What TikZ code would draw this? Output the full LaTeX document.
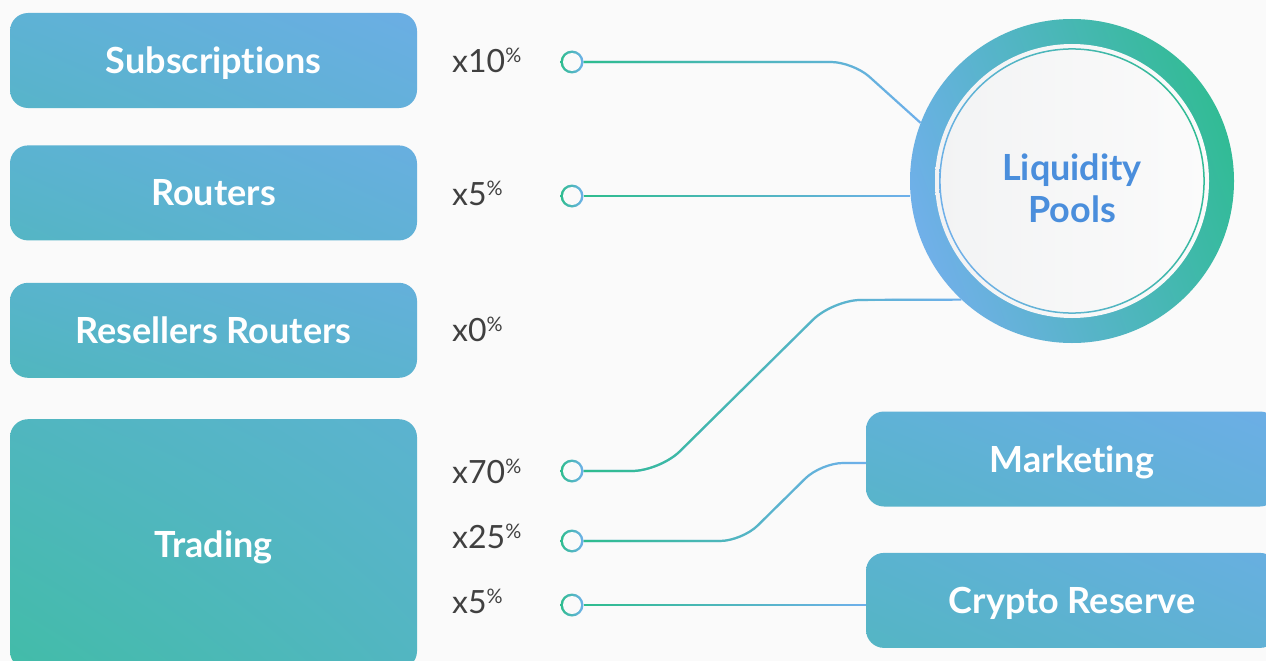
\documentclass[tikz,border=0pt]{standalone}
\usepackage{fontspec}
\setmainfont{Lato}[Ligatures=NoCommon]
\usepackage{xcolor}
\definecolor{bgGray}{HTML}{FAFAFA}
\definecolor{labelGray}{HTML}{404040}
\definecolor{linkGreen}{HTML}{2EBD8E}
\definecolor{linkBlue}{HTML}{6FB0EC}
\definecolor{ringGreen}{HTML}{2ABD88}
\definecolor{ringUL}{HTML}{62B2DC}
\definecolor{ringLR}{HTML}{3CB9A8}
\definecolor{ringBlue}{HTML}{7AAEF3}
\definecolor{innerLeft}{HTML}{F2F3F4}
\definecolor{innerRight}{HTML}{FBFBFB}
\definecolor{poolBlue}{HTML}{4A8EDC}
% box corner colours (upper left, upper right, lower left, lower right)
\definecolor{subsUL}{HTML}{5EB2D5}\definecolor{subsUR}{HTML}{6BAEE4}
\definecolor{subsLL}{HTML}{57B4C9}\definecolor{subsLR}{HTML}{64B0DB}
\definecolor{routUL}{HTML}{5BB3D1}\definecolor{routUR}{HTML}{68AFE0}
\definecolor{routLL}{HTML}{54B5C4}\definecolor{routLR}{HTML}{61B1D6}
\definecolor{reseUL}{HTML}{58B4CC}\definecolor{reseUR}{HTML}{64B0DB}
\definecolor{reseLL}{HTML}{50B6BE}\definecolor{reseLR}{HTML}{5CB3D0}
\definecolor{tradUL}{HTML}{50B6BF}\definecolor{tradUR}{HTML}{5CB3D0}
\definecolor{tradLL}{HTML}{42BCA8}\definecolor{tradLR}{HTML}{52B6C1}
\definecolor{mktUL}{HTML}{5FB2D6}\definecolor{mktUR}{HTML}{6CAEE6}
\definecolor{mktLL}{HTML}{58B4CA}\definecolor{mktLR}{HTML}{65B0DC}
\definecolor{cryUL}{HTML}{5AB3CF}\definecolor{cryUR}{HTML}{68AFE1}
\definecolor{cryLL}{HTML}{54B5C4}\definecolor{cryLR}{HTML}{61B1D6}
\usetikzlibrary{positioning, fadings, shadings}
\newcommand{\pct}{\raisebox{10pt}{\fontsize{20}{20}\selectfont\%}}

\begin{document}
\begin{tikzpicture}[
    x=1pt, y=-1pt,
    box/.style={rectangle, rounded corners=18pt, minimum width=407pt, minimum height=95pt,
                inner sep=0pt, text=white, font=\fontsize{36}{42}\selectfont\bfseries,
                text height=26pt, text depth=0pt},
    subsbox/.style={box, upper left=subsUL, upper right=subsUR, lower left=subsLL, lower right=subsLR},
    routbox/.style={box, upper left=routUL, upper right=routUR, lower left=routLL, lower right=routLR},
    resebox/.style={box, upper left=reseUL, upper right=reseUR, lower left=reseLL, lower right=reseLR},
    tradbox/.style={box, upper left=tradUL, upper right=tradUR, lower left=tradLL, lower right=tradLR},
    mktbox/.style={box, minimum width=412pt, upper left=mktUL, upper right=mktUR, lower left=mktLL, lower right=mktLR},
    crybox/.style={box, minimum width=412pt, upper left=cryUL, upper right=cryUR, lower left=cryLL, lower right=cryLR},
    dot/.style={circle, minimum size=23pt, inner sep=0pt, left color=linkGreen, right color=linkBlue,
                path picture={\fill[bgGray] (path picture bounding box.center) circle (9pt);}},
    share/.style={anchor=base west, inner sep=0pt, text=labelGray, font=\fontsize{32}{32}\selectfont},
    link/.style={line width=2.2pt, draw=linkBlue, rounded corners=22pt,
                 postaction={draw=linkGreen, path fading=east}},
    pool/.style={circle, minimum size=324pt, inner sep=0pt,
                 lower left=ringBlue, upper right=ringGreen, upper left=ringUL, lower right=ringLR,
                 path picture={
                   \coordinate (c) at (path picture bounding box.center);
                   \shade[left color=innerLeft, right color=innerRight] (c) circle (137pt);
                   \shade[even odd rule, lower left=ringBlue, upper right=ringGreen,
                          upper left=ringUL, lower right=ringLR] (c) circle (132.8pt) (c) circle (131.3pt);
                 }},
    poollabel/.style={align=center, inner sep=0pt, text=poolBlue, font=\fontsize{36}{42}\selectfont\bfseries}
]
    \fill[bgGray] (0,0) rectangle (1266,661);
    \useasboundingbox (0,0) rectangle (1266,661);

    % sources
    \node[subsbox] (subs) at (213.5,60.5) {Subscriptions};
    \node[routbox, below=37pt of subs] (routers) {Routers};
    \node[resebox, below=42pt of routers] (resellers) {Resellers Routers};
    \node[tradbox, below=41pt of resellers, minimum height=250pt] (trading) {Trading};

    % shares
    \node[share] (pSubs) at (452,73) {x10\pct};
    \node[share] (pRouters) at (452,205) {x5\pct};
    \node[share] (pResellers) at (452,341) {x0\pct};
    \node[share] (pTrade70) at (452,483) {x70\pct};
    \node[share] (pTrade25) at (452,548) {x25\pct};
    \node[share] (pTrade5) at (452,613) {x5\pct};

    \node[dot] (dotSubs) at (572,62) {};
    \node[dot] (dotRouters) at (572,196) {};
    \node[dot] (dotTrade70) at (572,471) {};
    \node[dot] (dotTrade25) at (572,541) {};
    \node[dot] (dotTrade5) at (572,605) {};

    % targets
    \node[pool] (pool) at (1072,181) {};
    \node[poollabel] (poolName) at ([yshift=-7.5pt]pool.center) {Liquidity\\Pools};
    \node[mktbox] (mkt) at (1072,459) {Marketing};
    \node[crybox, below=46pt of mkt] (crypto) {Crypto Reserve};

    % flows
    \draw[link] (dotSubs.east) -- (853,62) -- (pool.159);
    \draw[link] ([yshift=5pt]dotRouters.east) ([yshift=-5pt]dotRouters.east)
                (dotRouters.east) -- (pool.west |- dotRouters);
    \draw[link, rounded corners=28pt] (dotTrade70.east) -- (660,471) -- (833,300) -- (pool.227);
    \draw[link] (dotTrade25.east) -- (742,541) -- (821,463) -- ([yshift=-4pt]mkt.west);
    \draw[link] ([yshift=5pt]dotTrade5.east) ([yshift=-5pt]dotTrade5.east)
                (dotTrade5.east) -- (dotTrade5 -| crypto.west);
\end{tikzpicture}
\end{document}
